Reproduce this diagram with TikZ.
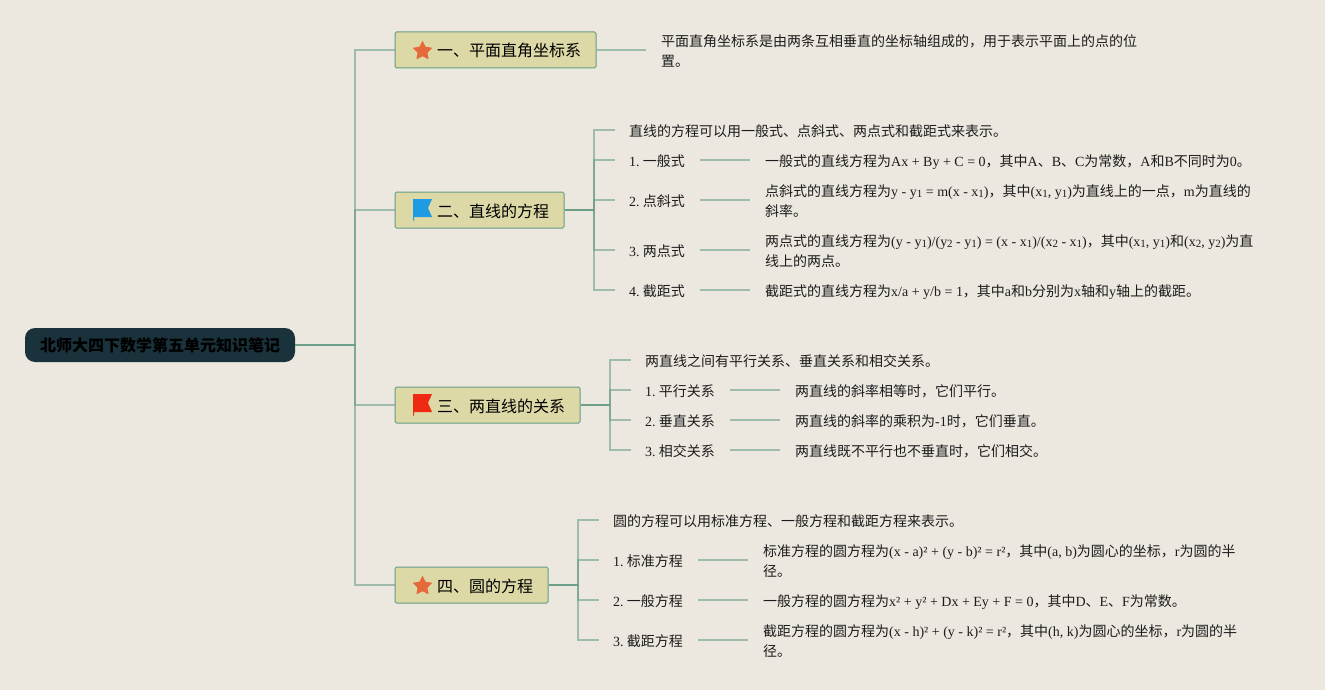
\documentclass[tikz,border=0pt]{standalone}
\usepackage{fontspec}
\setmainfont{Liberation Serif}
\newfontfamily\cjk{Noto Sans CJK SC}
\usetikzlibrary{calc,shapes.geometric}
\XeTeXinterchartokenstate=1
\newcount\cc
\newcommand{\setcjkrange}[2]{\cc=#1\relax\loop\ifnum\cc<#2\relax\XeTeXcharclass\cc=1\relax\advance\cc by 1\repeat}
\setcjkrange{"3000}{"3040}
\setcjkrange{"4E00}{"9FFF}
\setcjkrange{"FF00}{"FF5F}
\XeTeXinterchartoks 0 1 = {\cjk}
\XeTeXinterchartoks 4095 1 = {\cjk}
\XeTeXinterchartoks 1 0 = {\rmfamily}
\XeTeXinterchartoks 1 4095 = {\rmfamily}
\newcommand{\xs}[1]{\raisebox{-1pt}{\fontsize{11}{11}\selectfont #1}}
\newcommand{\tl}[1]{\hspace{42pt}\raisebox{-7pt}[0pt][0pt]{#1}}
\definecolor{bgc}{HTML}{ECE8E0}
\definecolor{linkc}{HTML}{6A9E88}
\definecolor{topicfill}{HTML}{DCD9A6}
\definecolor{topicline}{HTML}{659C86}
\definecolor{rootfill}{HTML}{1A323C}
\definecolor{inkc}{HTML}{1C1C1C}
\definecolor{starc}{HTML}{E5693A}
\definecolor{bluec}{HTML}{1E9BE2}
\definecolor{redc}{HTML}{EE2A12}
\tikzset{
  link/.style={draw=linkc,line width=1.8pt,draw opacity=.6},
  rootbox/.style={draw=none,fill=rootfill,rounded corners=10pt,minimum width=270pt,minimum height=34pt,inner sep=0pt,text=black,font=\fontsize{16}{20}\selectfont\bfseries},
  topicbox/.style={draw=topicline,fill=topicfill,line width=1pt,rounded corners=1.5pt,minimum height=36pt,inner sep=0pt,text=black,align=left,font=\fontsize{16}{20}\selectfont},
  staricon/.style={star,star points=5,star point ratio=2.05,minimum size=21pt,inner sep=0pt,fill=starc,rounded corners=.8pt},
  one/.style={anchor=west,inner sep=0pt,text=inkc,font=\fontsize{14}{20}\selectfont,text height=14pt,text depth=2pt},
  lab/.style={one,execute at begin node={\spaceskip=2pt\relax}},
  two/.style={anchor=west,inner sep=0pt,text=inkc,font=\fontsize{14}{20}\selectfont,align=left},
  gap/.style={shorten <=15pt,shorten >=15pt},
  endgap/.style={shorten >=14pt}
}
\begin{document}
\begin{tikzpicture}[x=1pt,y=-1pt]
\useasboundingbox (0,0) rectangle (1325,690);
\fill[bgc] (0,0) rectangle (1325,690);
% root and topics
\node[rootbox] (root) at (160,345) {北师大四下数学第五单元知识笔记};
\node[topicbox,minimum width=201pt,text width=201pt] (t1) at (495.5,50) {\tl{一、平面直角坐标系}};
\node[topicbox,minimum width=169pt,text width=169pt] (t2) at (479.5,210) {\tl{二、直线的方程}};
\node[topicbox,minimum width=185pt,text width=185pt] (t3) at (487.5,405) {\tl{三、两直线的关系}};
\node[topicbox,minimum width=153pt,text width=153pt] (t4) at (471.5,585) {\tl{四、圆的方程}};
% icons
\node[staricon] (s1) at (422.5,51) {};
\fill[bluec] (413,199) -- (432,199) -- (428,208) -- (432,217) -- (414.2,217) -- (414.2,220.5) -- (413,220.5) -- cycle;
\fill[redc] (413,394) -- (432,394) -- (428,403) -- (432,412) -- (414.2,412) -- (414.2,415.5) -- (413,415.5) -- cycle;
\node[staricon] (s4) at (422.5,586) {};
% text of topic 1
\node[two] (d1) at (661,51) {平面直角坐标系是由两条互相垂直的坐标轴组成的，用于表示平面上的点的位\\置。};
% topic 2
\node[one] (a0) at (629,130) {直线的方程可以用一般式、点斜式、两点式和截距式来表示。};
\node[lab] (a1) at (629,160) {1. 一般式};
\node[lab] (a2) at (629,200) {2. 点斜式};
\node[lab] (a3) at (629,250) {3. 两点式};
\node[lab] (a4) at (629,290) {4. 截距式};
\node[one] (ad1) at (765,160) {一般式的直线方程为Ax + By + C = 0，其中A、B、C为常数，A和B不同时为0。};
\node[two] (ad2) at (765,201) {点斜式的直线方程为y - y\xs{1} = m(x - x\xs{1})，其中(x\xs{1}, y\xs{1})为直线上的一点，m为直线的\\斜率。};
\node[two] (ad3) at (765,251) {两点式的直线方程为(y - y\xs{1})/(y\xs{2} - y\xs{1}) = (x - x\xs{1})/(x\xs{2} - x\xs{1})，其中(x\xs{1}, y\xs{1})和(x\xs{2}, y\xs{2})为直\\线上的两点。};
\node[one] (ad4) at (765,290) {截距式的直线方程为x/a + y/b = 1，其中a和b分别为x轴和y轴上的截距。};
% topic 3
\node[one] (b0) at (645,360) {两直线之间有平行关系、垂直关系和相交关系。};
\node[lab] (b1) at (645,390) {1. 平行关系};
\node[lab] (b2) at (645,420) {2. 垂直关系};
\node[lab] (b3) at (645,450) {3. 相交关系};
\node[one] (bd1) at (795,390) {两直线的斜率相等时，它们平行。};
\node[one] (bd2) at (795,420) {两直线的斜率的乘积为-1时，它们垂直。};
\node[one] (bd3) at (795,450) {两直线既不平行也不垂直时，它们相交。};
% topic 4
\node[one] (c0) at (613,520) {圆的方程可以用标准方程、一般方程和截距方程来表示。};
\node[lab] (c1) at (613,560) {1. 标准方程};
\node[lab] (c2) at (613,600) {2. 一般方程};
\node[lab] (c3) at (613,640) {3. 截距方程};
\node[two] (cd1) at (763,561) {标准方程的圆方程为(x - a)² + (y - b)² = r²，其中(a, b)为圆心的坐标，r为圆的半\\径。};
\node[one] (cd2) at (763,600) {一般方程的圆方程为x² + y² + Dx + Ey + F = 0，其中D、E、F为常数。};
\node[two] (cd3) at (763,641) {截距方程的圆方程为(x - h)² + (y - k)² = r²，其中(h, k)为圆心的坐标，r为圆的半\\径。};
% connectors
\foreach \t in {t1,t2,t3,t4}
  \draw[link] (root.east) -- ++(60,0) |- (\t.west);
\draw[link,shorten >=15pt] (t1.east) -- (t1.east -| d1.west);
\foreach \k in {a0,a1,a2,a3,a4}
  \draw[link,endgap] (t2.east) -- (t2.east -| 594,0) |- (\k.west);
\foreach \k in {b0,b1,b2,b3}
  \draw[link,endgap] (t3.east) -- (t3.east -| 610,0) |- (\k.west);
\foreach \k in {c0,c1,c2,c3}
  \draw[link,endgap] (t4.east) -- (t4.east -| 578,0) |- (\k.west);
\foreach \p/\q in {a1/ad1,a2/ad2,a3/ad3,a4/ad4,b1/bd1,b2/bd2,b3/bd3,c1/cd1,c2/cd2,c3/cd3}
  \draw[link,gap] (\p.east) -- (\p.east -| \q.west);
\end{tikzpicture}
\end{document}
